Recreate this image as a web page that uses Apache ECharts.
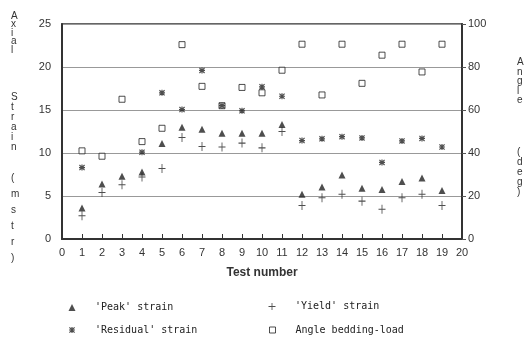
<!DOCTYPE html>
<html>
<head>
<meta charset="utf-8">
<script src="https://cdn.jsdelivr.net/npm/echarts@6/dist/echarts.min.js"></script>
<style>html,body{margin:0;padding:0;background:#fff}#c{width:527px;height:338px}</style>
</head>
<body>
<div id="c"></div>
<script>
// ---- data ----
var tests = [1, 2, 3, 4, 5, 6, 7, 8, 9, 10, 11, 12, 13, 14, 15, 16, 17, 18, 19];
var peakStrain = [3.6, 6.4, 7.3, 7.8, 11.1, 13.0, 12.75, 12.3, 12.3, 12.3, 13.3, 5.2, 6.05, 7.45, 5.9, 5.75, 6.7, 7.1, 5.65];
var yieldStrain = [2.7, 5.4, 6.3, 7.2, 8.2, 11.8, 10.75, 10.7, 11.15, 10.6, 12.5, 3.9, 4.8, 5.2, 4.4, 3.45, 4.8, 5.2, 3.9];
var residualStrain = [8.3, null, null, 10.1, 17.0, 15.05, 19.6, 15.5, 14.9, 17.7, 16.6, 11.45, 11.65, 11.9, 11.75, 8.9, 11.4, 11.7, 10.7];
var angleBedding = [41, 38.5, 65, 45.3, 51.5, 90.4, 71, 62, 70.5, 68, 78.5, 90.6, 67, 90.6, 72.4, 85.5, 90.6, 77.7, 90.6];
var seriesNames = ["'Peak' strain", "'Yield' strain", "'Residual' strain", "Angle bedding-load"];
var xName = 'Test number';
var leftTitle = ['Axial', 'Strain', '(mstr)'];
var rightTitle = ['Angle', '(deg)'];

function pairs(arr) {
  var out = [];
  for (var i = 0; i < tests.length; i++) if (arr[i] != null) out.push([tests[i], arr[i]]);
  return out;
}

var INK = '#222';
var plusPath = 'path://M4.4,0 L5.6,0 L5.6,10 L4.4,10 Z M0,4.4 L10,4.4 L10,5.6 L0,5.6 Z';
var starPath = 'path://M0,4 L10,4 L10,6 L0,6 Z M4,0 L6,0 L6,10 L4,10 Z M1.4,0 L10,8.6 L8.6,10 L0,1.4 Z M8.6,0 L10,1.4 L1.4,10 L0,8.6 Z';
var mono = 'DejaVu Sans Mono';
var sans = 'Liberation Sans';

function legendAt(name, left, top, w, h) {
  return {
    data: [name], left: left - w / 2, top: top - h / 2, padding: 0,
    itemWidth: w, itemHeight: h, itemGap: 0, selectedMode: false,
    itemStyle: { borderWidth: 1 },
    textStyle: { fontFamily: mono, fontSize: 10, color: INK, padding: [0, 0, 0, 23 - w / 2 - 5] }
  };
}

function stacked(text, x, yCenterFirst, lh, align) {
  return {
    type: 'text', left: x, top: yCenterFirst - lh / 2,
    style: { text: text.split('').join('\n'), font: '10px ' + sans, fill: '#333', lineHeight: lh, align: align || 'center' }
  };
}

var chart = echarts.init(document.getElementById('c'), null, { renderer: 'canvas' });
chart.setOption({
  backgroundColor: '#fff',
  animation: false,
  grid: { left: 62, right: 65, top: 24, bottom: 99, show: true, borderColor: '#333', borderWidth: 1.5 },
  xAxis: {
    type: 'value', min: 0, max: 20, interval: 1,
    name: xName, nameLocation: 'middle', nameGap: 28,
    nameTextStyle: { fontFamily: sans, fontSize: 12, fontWeight: 'bold', color: '#333' },
    axisLine: { show: true, lineStyle: { color: '#333', width: 2 } },
    axisTick: { show: true, inside: true, length: 5, lineStyle: { color: '#333' } },
    axisLabel: { fontFamily: sans, fontSize: 11, color: '#333', margin: 8 },
    splitLine: { show: false }
  },
  yAxis: [
    {
      type: 'value', min: 0, max: 25, interval: 5, position: 'left',
      axisLine: { show: true, lineStyle: { color: '#333', width: 2 } },
      axisTick: { show: false },
      axisLabel: { fontFamily: sans, fontSize: 11, color: '#333', margin: 11 },
      splitLine: { show: true, lineStyle: { color: '#999', width: 1 } }
    },
    {
      type: 'value', min: 0, max: 100, interval: 20, position: 'right',
      axisLine: { show: true, lineStyle: { color: '#333', width: 2 } },
      axisTick: { show: true, length: 4, lineStyle: { color: '#555' } },
      axisLabel: { fontFamily: sans, fontSize: 11, color: '#333', margin: 6 },
      splitLine: { show: false }
    }
  ],
  legend: [
    legendAt(seriesNames[0], 72, 306, 7, 7),
    legendAt(seriesNames[1], 272, 306, 7, 9),
    legendAt(seriesNames[2], 72, 328, 6, 6),
    legendAt(seriesNames[3], 272, 328, 6, 6)
  ],
  graphic: [
    stacked(leftTitle[0], 11, 15, 8.5),
    stacked(leftTitle[1], 11, 97, 10),
    stacked(leftTitle[2], 11, 178, 16),
    stacked(rightTitle[0], 517, 62, 9.5),
    stacked(rightTitle[1], 517, 152, 10)
  ],
  series: [
    {
      name: seriesNames[3], type: 'scatter', yAxisIndex: 1, data: pairs(angleBedding),
      symbol: 'rect', symbolSize: 6,
      itemStyle: { color: '#fff', borderColor: INK, borderWidth: 1 }
    },
    {
      name: seriesNames[2], type: 'scatter', yAxisIndex: 0, data: pairs(residualStrain),
      symbol: starPath, symbolSize: 6, itemStyle: { color: INK }
    },
    {
      name: seriesNames[0], type: 'scatter', yAxisIndex: 0, data: pairs(peakStrain),
      symbol: 'triangle', symbolSize: 7, itemStyle: { color: INK }
    },
    {
      name: seriesNames[1], type: 'scatter', yAxisIndex: 0, data: pairs(yieldStrain),
      symbol: plusPath, symbolSize: [7, 9], itemStyle: { color: INK }
    }
  ]
});
</script>
</body>
</html>
